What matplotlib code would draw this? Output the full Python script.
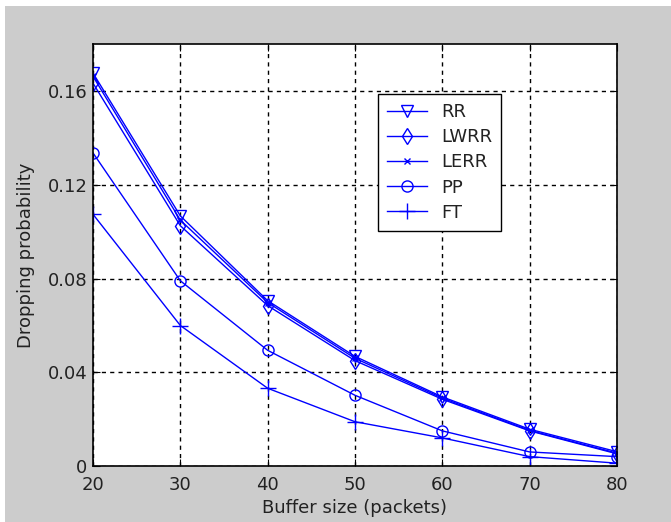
import matplotlib
matplotlib.use("Agg")
import matplotlib.pyplot as plt
from matplotlib.patches import Rectangle

# buffer sizes (packets)
buffer_size = [20, 30, 40, 50, 60, 70, 80]

# dropping probability per scheme
rr = [0.1678, 0.1068, 0.0706, 0.0468, 0.0295, 0.0157, 0.0061]
lwrr = [0.1635, 0.1026, 0.0685, 0.0450, 0.0285, 0.0150, 0.0052]
lerr = [0.1664, 0.1050, 0.0698, 0.0460, 0.0290, 0.0152, 0.0055]
pp = [0.1337, 0.0791, 0.0494, 0.0302, 0.0150, 0.0060, 0.0040]
ft = [0.1075, 0.0600, 0.0332, 0.0189, 0.0120, 0.0040, 0.0012]

y_ticks = [0, 0.04, 0.08, 0.12, 0.16]
y_ticklabels = ["0", "0.04", "0.08", "0.12", "0.16"]

plt.rcParams["font.family"] = ["DejaVu Sans"]

fig = plt.figure(figsize=(6.71, 5.22), dpi=100, facecolor="#cccccc")
# white strips from the original screenshot edges
fig.patches.append(Rectangle((0, 1 - 6 / 522), 1, 6 / 522, transform=fig.transFigure,
                             facecolor="white", edgecolor="none", zorder=-1))
fig.patches.append(Rectangle((0, 0), 5 / 671, 1, transform=fig.transFigure,
                             facecolor="white", edgecolor="none", zorder=-1))

ax = fig.add_axes([93 / 671, 1 - 466 / 522, (617 - 93) / 671, (466 - 44.5) / 522])

blue = (0, 0, 1)
ax.plot(buffer_size, rr, color=blue, lw=1, marker="v", ms=8, mfc="none", mew=1, label="RR")
ax.plot(buffer_size, lwrr, color=blue, lw=1, marker="d", ms=8, mfc="none", mew=1, label="LWRR")
ax.plot(buffer_size, lerr, color=blue, lw=1, marker="x", ms=5, mfc="none", mew=1, label="LERR")
ax.plot(buffer_size, pp, color=blue, lw=1, marker="o", ms=8, mfc="none", mew=1, label="PP")
ax.plot(buffer_size, ft, color=blue, lw=1, marker="+", ms=12, mew=1, label="FT")

ax.set_xlim(20, 80)
ax.set_ylim(0, 0.18)
ax.set_xticks(buffer_size)
ax.set_yticks(y_ticks)
ax.set_yticklabels(y_ticklabels)

ax.grid(True, color="black", linestyle=(0, (3, 3)), linewidth=1)
ax.tick_params(direction="in", top=True, right=True, length=5, labelsize=13,
               color="black", labelcolor="#222222")
ax.tick_params(axis="x", pad=7)
ax.tick_params(axis="y", pad=4)
for s in ax.spines.values():
    s.set_linewidth(1.2)

ax.set_xlabel("Buffer size (packets)", fontsize=13, labelpad=4, color="#222222")
ax.set_ylabel("Dropping probability", fontsize=13, labelpad=9, color="#222222")

leg = ax.legend(loc="upper left", bbox_to_anchor=(0.544, 0.883), borderaxespad=0,
                fontsize=13, fancybox=False, shadow=False, framealpha=1,
                edgecolor="black", handlelength=2.2, handletextpad=0.8,
                labelspacing=0.4, borderpad=0.5)
leg.get_frame().set_linewidth(1)
for t in leg.get_texts():
    t.set_color("#222222")

fig.savefig("out.png", dpi=100, facecolor=fig.get_facecolor())
